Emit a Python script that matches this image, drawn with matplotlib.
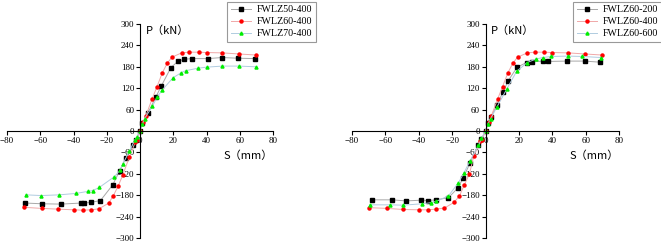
import numpy as np
import matplotlib
matplotlib.use('Agg')
import matplotlib.pyplot as plt

plt.rcParams['font.family'] = ['Liberation Serif', 'Noto Sans CJK SC', 'DejaVu Sans']

# left panel data (S in mm, P in kN)
s50_400 = [-69.2, -59.2, -47.6, -35.4, -33.6, -29.4, -23.8, -16.4, -12.2, -8.5, -4.2, -2.4, 0,
           1.5, 4.8, 9.4, 12.8, 18.6, 23.0, 26.6, 31.2, 40.8, 49.4, 59.2, 69.0]
p50_400 = [-202, -204, -205, -202, -202, -200, -195, -151, -111, -75, -40, -24, 0,
           22, 51, 94, 126, 178, 196, 201, 203, 203, 206, 204, 203]

s60_400 = [-69.6, -59.2, -49.6, -39.8, -34.4, -29.2, -24.6, -18.8, -16.0, -13.0, -10.4, -6.4, -2.8, -2.0, 0,
           2.0, 3.4, 7.2, 10.2, 13.4, 16.4, 19.2, 25.0, 29.6, 35.2, 40.0, 49.6, 59.4, 69.8]
p60_400 = [-214, -217, -219, -221, -222, -221, -218, -202, -181, -153, -124, -73, -31, -24, 0,
           26, 41, 89, 124, 163, 190, 207, 219, 221, 221, 220, 219, 216, 213]

s70_400 = [-68.6, -59.4, -48.6, -38.4, -31.0, -28.4, -24.4, -15.4, -12.0, -10.4, -6.4, -3.0, -2.0, 0,
           1.5, 2.8, 7.4, 10.2, 13.2, 19.8, 24.6, 27.4, 34.8, 40.0, 49.6, 59.4, 69.8]
p70_400 = [-179, -181, -179, -175, -169, -167, -158, -128, -110, -93, -57, -24, -17, 0,
           20, 35, 69, 94, 114, 149, 163, 169, 176, 179, 182, 182, 180]

# right panel data
s60_200 = [-68.0, -56.0, -47.8, -38.4, -34.6, -29.8, -22.2, -16.6, -13.4, -9.4, -4.4, -2.4, 0,
           1.5, 3.5, 6.8, 10.4, 13.6, 19.0, 24.6, 27.6, 34.6, 37.4, 48.6, 59.4, 68.4]
p60_200 = [-193, -193, -196, -194, -195, -193, -187, -160, -132, -91, -39, -22, 0,
           22, 40, 74, 108, 141, 179, 192, 194, 196, 195, 196, 196, 193]

s60_400r = [-69.6, -59.0, -49.6, -39.6, -34.6, -29.4, -24.6, -18.8, -15.6, -12.8, -9.6, -7.0, -3.0, -2.0, 0,
            2.0, 3.4, 7.2, 10.2, 13.4, 16.4, 19.2, 25.0, 29.6, 35.2, 40.0, 49.6, 59.4, 69.8]
p60_400r = [-215, -217, -220, -221, -221, -219, -216, -200, -182, -152, -120, -70, -29, -24, 0,
            26, 41, 89, 124, 163, 190, 207, 219, 221, 221, 220, 219, 216, 213]

s60_600 = [-69.2, -57.2, -49.4, -37.8, -32.6, -29.4, -22.2, -16.2, -13.0, -9.2, -4.2, -2.4, 0,
           1.5, 3.0, 6.8, 12.8, 18.6, 25.0, 30.4, 34.4, 39.4, 49.4, 58.0, 69.2]
p60_600 = [-207, -207, -208, -204, -201, -197, -182, -145, -118, -83, -40, -21, 0,
           20, 34, 67, 118, 167, 192, 202, 206, 209, 210, 209, 206]

fig = plt.figure(figsize=(6.61, 2.42), dpi=100)
ax1 = fig.add_axes([7/661, 4/242, 266/661, 214/242])
ax2 = fig.add_axes([352/661, 4/242, 267/661, 214/242])

styles = [dict(color='#a8a8a8', marker='s', mfc='black', mec='black'),
          dict(color='#f0a8a8', marker='o', mfc='red', mec='red'),
          dict(color='#b0cce0', marker='^', mfc='#00ee00', mec='#00ee00')]

panels = [
    (ax1, [(s50_400, p50_400, 'FWLZ50-400'), (s60_400, p60_400, 'FWLZ60-400'), (s70_400, p70_400, 'FWLZ70-400')]),
    (ax2, [(s60_200, p60_200, 'FWLZ60-200'), (s60_400r, p60_400r, 'FWLZ60-400'), (s60_600, p60_600, 'FWLZ60-600')]),
]

for ax, series in panels:
    for (s, p, lab), st in zip(series, styles):
        ax.plot(s, p, lw=0.7, ms=2.2, label=lab, **st)
    ax.set_xlim(-80, 80)
    ax.set_ylim(-300, 300)
    ax.spines['left'].set_position(('data', 0))
    ax.spines['bottom'].set_position(('data', 0))
    ax.spines['right'].set_visible(False)
    ax.spines['top'].set_visible(False)
    ax.set_xticks(np.arange(-80, 81, 20))
    ax.set_yticks(np.arange(-300, 301, 60))
    ax.tick_params(labelsize=6.5, length=3, width=0.8, pad=1)
    ax.patch.set_visible(False)
    ax.text(3.5, 281, 'P\uff08kN\uff09', fontsize=8, va='center', ha='left',
            family=['Noto Sans CJK SC', 'DejaVu Sans'])
    ax.text(80, -68, 'S\uff08mm\uff09', fontsize=8, va='center', ha='right',
            family=['Noto Sans CJK SC', 'DejaVu Sans'])
    leg = ax.legend(loc='upper right', bbox_to_anchor=(1.16, 1.105), fontsize=7.2,
                    fancybox=False, edgecolor='#808080', borderaxespad=0,
                    handlelength=2.0, handletextpad=0.6, labelspacing=0.3, borderpad=0.35)
    leg.get_frame().set_linewidth(0.8)

fig.savefig('out.png', dpi=100)
